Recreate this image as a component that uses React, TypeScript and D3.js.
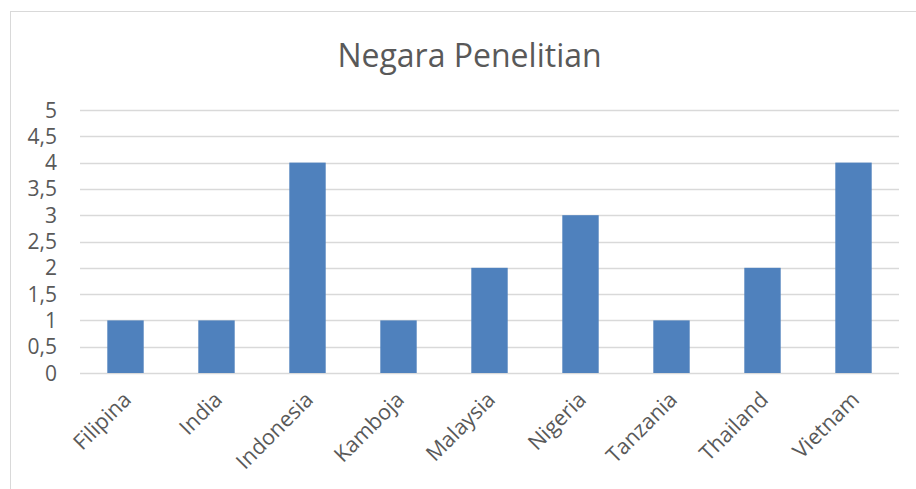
import React from "react";
import * as d3 from "d3";

const categories = ["Filipina", "India", "Indonesia", "Kamboja", "Malaysia", "Nigeria", "Tanzania", "Thailand", "Vietnam"];
const values = [1, 1, 4, 1, 2, 3, 1, 2, 4];
const yTicks = [0, 0.5, 1, 1.5, 2, 2.5, 3, 3.5, 4, 4.5, 5];
const title = "Negara Penelitian";

const W = 916;
const H = 489;
const FONT = "'Open Sans', 'DejaVu Sans', sans-serif";

export default function App() {
  const x = d3.scaleBand<string>().domain(categories).range([80, 899]).paddingInner(0.6).paddingOuter(0.3);
  const band = d3.scaleBand<string>().domain(categories).range([80, 899]);
  const y = d3.scaleLinear().domain([0, 5]).range([373, 110]);
  const fmt = (v: number) => String(v).replace(".", ",");

  return (
    <div style={{ position: "fixed", left: 0, top: 0, width: W, height: H, background: "#fff" }}>
      <svg width={W} height={H} style={{ display: "block" }}>
        <rect x={10.5} y={11.5} width={W + 20} height={H + 20} fill="#fff" stroke="#d9d9d9" strokeWidth={1} />
        <text x={469.5} y={67} textAnchor="middle" fontFamily={FONT} fontSize={32} fill="#595959">
          {title}
        </text>
        {yTicks.map((t) => (
          <g key={t}>
            <line x1={80} x2={899} y1={Math.round(y(t)) + 0.5} y2={Math.round(y(t)) + 0.5} stroke="#d9d9d9" strokeWidth={1.3} />
            <text x={57} y={y(t)} dy="0.36em" textAnchor="end" fontFamily={FONT} fontSize={21} fill="#595959">
              {fmt(t)}
            </text>
          </g>
        ))}
        {categories.map((c, i) => (
          <rect key={c} x={x(c)} y={y(values[i])} width={x.bandwidth()} height={y(0) - y(values[i])} fill="#4f81bd" />
        ))}
        {categories.map((c) => {
          const cx = (band(c) as number) + band.bandwidth() / 2 + 7;
          const cy = 401;
          return (
            <text key={c} transform={`translate(${cx},${cy}) rotate(-45)`} textAnchor="end" fontFamily={FONT} fontSize={21.5} fill="#595959">
              {c}
            </text>
          );
        })}
      </svg>
    </div>
  );
}
